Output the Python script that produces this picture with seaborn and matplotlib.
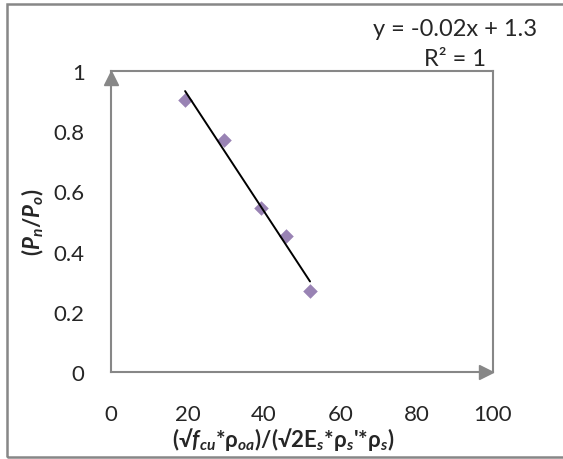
import matplotlib
matplotlib.use("Agg")
import matplotlib.pyplot as plt
import matplotlib.transforms as mtransforms
import seaborn as sns
import pandas as pd
from matplotlib.patches import Rectangle

# data
x_vals = [19.4, 29.6, 39.3, 45.8, 52.1]
y_vals = [0.905, 0.771, 0.544, 0.453, 0.268]
x_ticks = [0, 20, 40, 60, 80, 100]
y_ticks = [0, 0.2, 0.4, 0.6, 0.8, 1]
y_tick_labels = ["0", "0.2", "0.4", "0.6", "0.8", "1"]

df = pd.DataFrame({"x": x_vals, "y": y_vals})

sns.set_style("white")
plt.rcParams["font.family"] = ["Lato", "DejaVu Sans"]
plt.rcParams["mathtext.fontset"] = "custom"
plt.rcParams["mathtext.rm"] = "Lato:bold"
plt.rcParams["mathtext.it"] = "Lato:bold:italic"
plt.rcParams["mathtext.bf"] = "Lato:bold"

grey = "#878787"
W, H = 563, 460
fig = plt.figure(figsize=(W / 100, H / 100), dpi=100)
ax = fig.add_axes([111 / W, 1 - 373 / H, (493 - 111) / W, (373 - 72) / H])

sns.regplot(data=df, x="x", y="y", ax=ax, ci=None, truncate=True,
            marker="D", scatter_kws={"s": 55, "color": "#8064A2", "zorder": 3, "linewidths": 0},
            line_kws={"color": "black", "lw": 1.4, "zorder": 4})

ax.set_xlim(0, 100)
ax.set_ylim(0, 1)
ax.set_xticks(x_ticks)
ax.set_yticks(y_ticks)
ax.set_yticklabels(y_tick_labels)
ax.tick_params(axis="both", direction="out", length=7, width=1.4, color=grey,
               labelsize=16)
ax.tick_params(axis="y", pad=12)
ax.tick_params(axis="x", pad=16)

for s in ax.spines.values():
    s.set_color(grey)
    s.set_linewidth(1.5)

# arrow heads on the axis ends, tip at the axis end
up = mtransforms.offset_copy(ax.transAxes, fig=fig, x=0, y=-5, units="points")
right = mtransforms.offset_copy(ax.transAxes, fig=fig, x=-5, y=0, units="points")
ax.plot([0], [1], marker="^", ms=10, color=grey, transform=up, clip_on=False, zorder=5)
ax.plot([1], [0], marker=">", ms=10, color=grey, transform=right, clip_on=False, zorder=5)

ax.set_xlabel("(√$f_{cu}$*ρ$_{oa}$)/(√2E$_s$*ρ$_s$'*ρ$_s$)", fontsize=16, fontweight="bold")
ax.xaxis.set_label_coords(0.45, -0.265)
ax.xaxis.label.set_va("bottom")
ax.set_ylabel("($P_n$/$P_o$)", fontsize=16, fontweight="bold")
ax.yaxis.set_label_coords(-0.17, 0.5)

fig.text(455 / W, 1 - 30 / H, "y = -0.02x + 1.3", ha="center", va="center", fontsize=17)
fig.text(455 / W, 1 - 60 / H, "R² = 1", ha="center", va="center", fontsize=17)

fig.patches.append(Rectangle((7 / W, 1 - 458 / H), (580 - 7) / W, (458 - 5) / H,
                             transform=fig.transFigure, fill=False, edgecolor=grey, lw=1.8))

fig.savefig("out.png", dpi=100)
